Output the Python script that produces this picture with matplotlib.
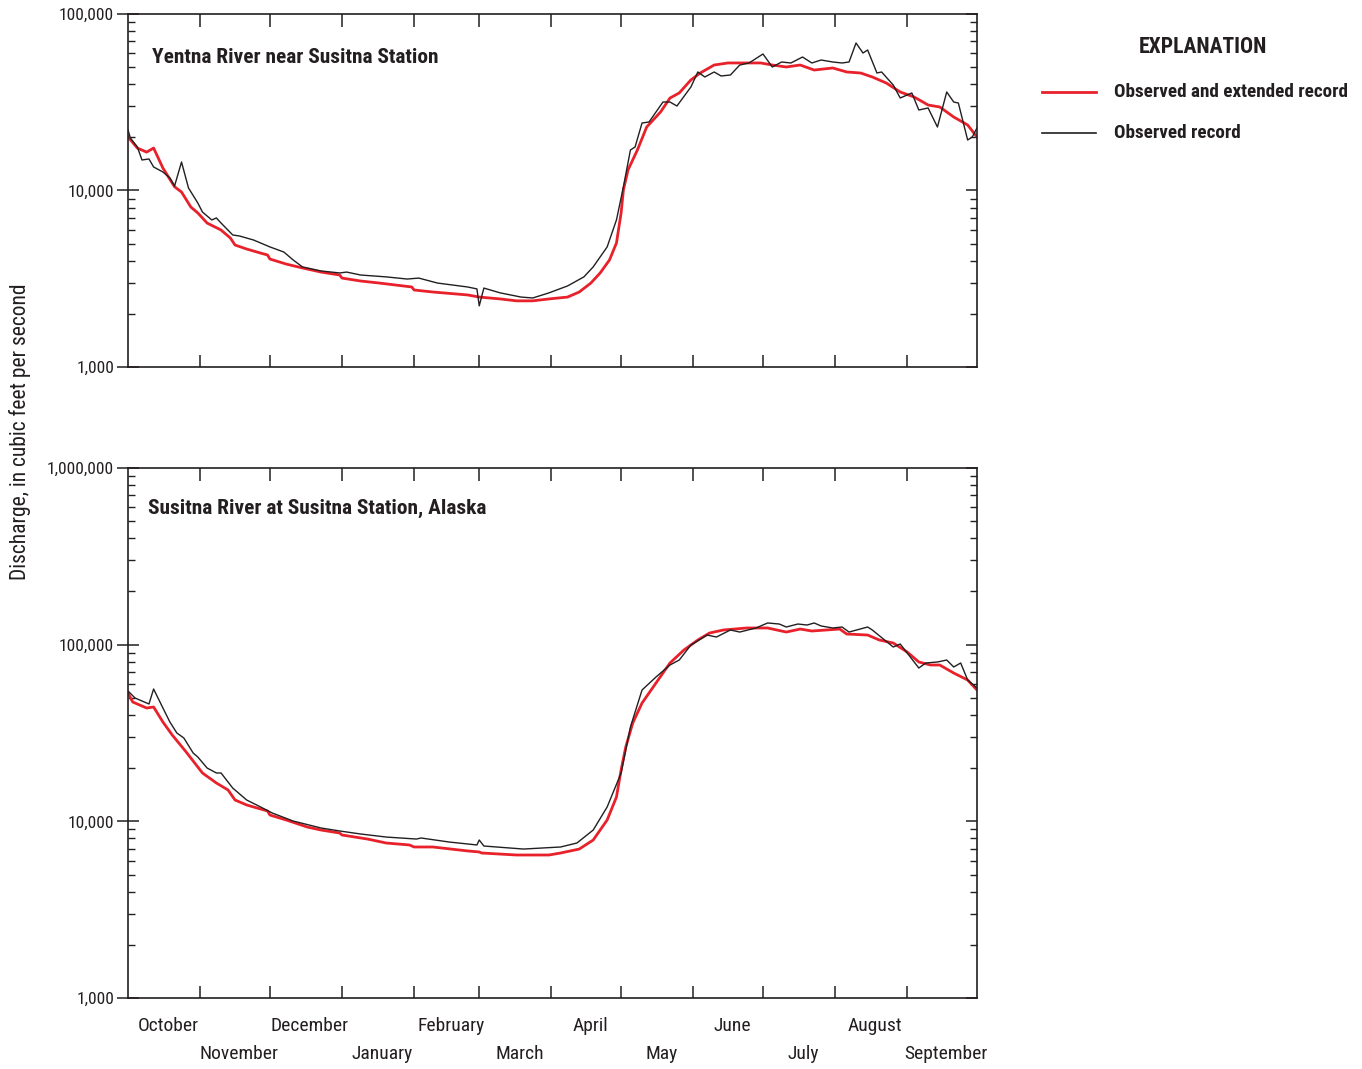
import matplotlib
matplotlib.use("Agg")
import matplotlib.pyplot as plt
import matplotlib.transforms as mtransforms
from matplotlib.lines import Line2D
from matplotlib.ticker import FuncFormatter, LogLocator, NullFormatter

plt.rcParams['font.family'] = ['Liberation Sans Narrow', 'Roboto Condensed', 'DejaVu Sans']

# Days since October 1 (water year), daily mean discharge in cubic feet per second
yentna_ext_day = [0, 4, 8, 11, 15, 20, 23, 27, 30, 34, 40, 44, 46, 51, 57, 60, 61, 68, 75, 83,
                  91, 92, 100, 108, 122, 123, 131, 146, 151, 160, 167, 174, 181, 189, 194, 199,
                  203, 207, 210, 212, 213, 215, 219, 223, 229, 233, 237, 242, 246, 252, 258,
                  263, 272, 277, 283, 289, 295, 303, 309, 315, 320, 326, 332, 338, 344, 349,
                  355, 361, 365]
yentna_ext_q = [20100, 17400, 16500, 17400, 13400, 10500, 9800, 8060, 7460, 6540, 5970, 5380,
                4910, 4660, 4420, 4310, 4090, 3830, 3640, 3450, 3320, 3190, 3070, 2990, 2840,
                2730, 2660, 2560, 2490, 2430, 2370, 2370, 2430, 2490, 2660, 2990, 3410, 4040,
                5040, 7460, 10100, 13100, 16960, 22900, 27900, 33400, 35700, 42300, 46300,
                51400, 52800, 52800, 52800, 51400, 50100, 51400, 48150, 49450, 46940, 46300,
                43970, 40650, 36150, 33860, 30510, 29730, 26090, 23500, 20100]

yentna_obs_day = [0, 1, 4, 6, 9, 11, 15, 18, 20, 23, 26, 30, 32, 36, 38, 40, 45, 48, 54, 61,
                  67, 71, 75, 83, 91, 94, 100, 111, 120, 125, 133, 146, 150, 151, 153, 160,
                  169, 174, 181, 189, 196, 200, 206, 210, 213, 216, 218, 221, 224, 230, 233,
                  236, 242, 245, 248, 252, 255, 259, 263, 267, 273, 277, 281, 285, 290, 294,
                  298, 303, 307, 310, 313, 316, 318, 322, 324, 329, 332, 337, 340, 344, 348,
                  352, 355, 357, 361, 363, 365]
yentna_obs_q = [22000, 19840, 17640, 14890, 15090, 13590, 12730, 11770, 10600, 14500, 10330,
                8500, 7550, 6810, 6990, 6540, 5600, 5520, 5240, 4790, 4480, 4040, 3690, 3500,
                3410, 3450, 3320, 3240, 3150, 3190, 2990, 2840, 2770, 2220, 2800, 2630, 2490,
                2460, 2630, 2880, 3240, 3690, 4790, 6810, 10500, 16960, 17640, 24120, 24440,
                31720, 31720, 30110, 38580, 46940, 43970, 46940, 44550, 45120, 51400, 52780,
                59350, 50100, 53460, 52780, 57060, 52780, 54880, 53460, 52780, 53460, 68490,
                60120, 62520, 46320, 46940, 39610, 33430, 35680, 28580, 29340, 22890, 36150,
                31720, 31310, 19320, 20100, 22600]

susitna_ext_day = [0, 2, 5, 8, 11, 15, 19, 25, 30, 32, 38, 43, 46, 51, 60, 61, 68, 77, 83, 91,
                   92, 103, 111, 121, 123, 131, 146, 151, 152, 167, 181, 186, 194, 200, 206,
                   210, 212, 214, 217, 221, 227, 233, 239, 245, 250, 256, 266, 275, 283, 289,
                   294, 306, 309, 318, 323, 329, 335, 340, 345, 349, 355, 361, 365]
susitna_ext_q = [53260, 47380, 45560, 43800, 44380, 36500, 30820, 24690, 20310, 18780, 16480,
                 15050, 13210, 12380, 11440, 10860, 10180, 9290, 8930, 8590, 8370, 7940, 7540,
                 7350, 7160, 7160, 6800, 6710, 6620, 6450, 6450, 6620, 6970, 7840, 10180, 13730,
                 19530, 26350, 36030, 46740, 60690, 78750, 93280, 106300, 116400, 121100,
                 124300, 124300, 117900, 122600, 119500, 122600, 114900, 113400, 106300, 102200,
                 90870, 79800, 76730, 76730, 69110, 63100, 55390]

susitna_obs_day = [0, 3, 6, 9, 11, 15, 18, 21, 24, 28, 30, 34, 38, 40, 45, 51, 57, 62, 71, 83,
                   91, 100, 111, 124, 126, 138, 150, 151, 153, 170, 186, 193, 200, 206, 212,
                   216, 221, 227, 233, 237, 242, 249, 253, 259, 263, 270, 275, 280, 283, 288,
                   292, 295, 298, 303, 307, 310, 318, 320, 329, 332, 340, 343, 348, 352, 355,
                   358, 361, 365]
susitna_obs_q = [54670, 49920, 48000, 46160, 56120, 43800, 36500, 31620, 29630, 24370, 23130,
                 20040, 18780, 18780, 15440, 13210, 12060, 11150, 10040, 9170, 8820, 8480, 8150,
                 7940, 8050, 7640, 7350, 7840, 7250, 6970, 7160, 7540, 8930, 12060, 18780,
                 34200, 55390, 65610, 76730, 81880, 99560, 113400, 110500, 121100, 117900,
                 124300, 132700, 130900, 125900, 130900, 129200, 132700, 127600, 124300, 125900,
                 117900, 125900, 121100, 97000, 100900, 73790, 78750, 79800, 81880, 74760,
                 78750, 63100, 56850]

month_names = ['October', 'November', 'December', 'January', 'February', 'March',
               'April', 'May', 'June', 'July', 'August', 'September']
month_starts = [0, 31, 61, 92, 123, 151, 182, 212, 243, 273, 304, 335, 365]

RED = '#e8212b'
INK = '#231f20'

fig = plt.figure(figsize=(13.62, 10.69), dpi=100)
ax_top = fig.add_axes([0.094, 0.6567, 0.6233, 0.3302])
ax_bot = fig.add_axes([0.094, 0.0664, 0.6233, 0.4958])

comma_fmt = FuncFormatter(lambda v, pos: f'{v:,.0f}')


def style_axis(ax, ymin, ymax):
    ax.set_yscale('log')
    ax.set_xlim(0, 365)
    ax.set_ylim(ymin, ymax)
    for s in ax.spines.values():
        s.set_color(INK)
        s.set_linewidth(1.2)
    ax.yaxis.set_major_locator(LogLocator(base=10))
    ax.yaxis.set_minor_locator(LogLocator(base=10, subs=range(2, 10)))
    ax.yaxis.set_major_formatter(comma_fmt)
    ax.yaxis.set_minor_formatter(NullFormatter())
    ax.tick_params(axis='y', which='major', direction='inout', length=16, width=1.1,
                   color=INK, labelsize=12.5, labelcolor=INK, right=False, pad=2)
    ax.tick_params(axis='y', which='minor', direction='in', length=5, width=1.0,
                   color=INK, right=False)
    # right-hand ticks point inward only
    sec = ax.secondary_yaxis('right')
    sec.yaxis.set_major_locator(LogLocator(base=10))
    sec.yaxis.set_minor_locator(LogLocator(base=10, subs=range(2, 10)))
    sec.yaxis.set_major_formatter(NullFormatter())
    sec.yaxis.set_minor_formatter(NullFormatter())
    sec.spines['right'].set_visible(False)
    sec.tick_params(which='major', direction='in', length=8, width=1.1, color=INK)
    sec.tick_params(which='minor', direction='in', length=5, width=1.0, color=INK)
    ax.set_xticks(month_starts[1:-1])
    ax.set_xticklabels([])
    ax.tick_params(axis='x', which='major', direction='in', length=9, width=1.1,
                   color=INK, top=True)
    ax.tick_params(axis='x', which='minor', bottom=False, top=False)


style_axis(ax_top, 1000, 100000)
style_axis(ax_bot, 1000, 1000000)

ax_top.plot(yentna_ext_day, yentna_ext_q, color=RED, lw=2.0, zorder=2)
ax_top.plot(yentna_obs_day, yentna_obs_q, color=INK, lw=1.0, zorder=3)
ax_bot.plot(susitna_ext_day, susitna_ext_q, color=RED, lw=2.0, zorder=2)
ax_bot.plot(susitna_obs_day, susitna_obs_q, color=INK, lw=1.0, zorder=3)

ax_top.text(0.028, 0.878, 'Yentna River near Susitna Station', transform=ax_top.transAxes,
            fontsize=15.4, fontweight='bold', color=INK, va='center', ha='left')
ax_bot.text(0.0236, 0.9245, 'Susitna River at Susitna Station, Alaska',
            transform=ax_bot.transAxes, fontsize=15.4, fontweight='bold', color=INK,
            va='center', ha='left')

# month names near the middle of each month, alternating between two rows
trans = mtransforms.blended_transform_factory(ax_bot.transData, fig.transFigure)
trans = trans + mtransforms.ScaledTranslation(0.04, 0, fig.dpi_scale_trans)
for i, name in enumerate(month_names):
    mid = (month_starts[i] + month_starts[i + 1]) / 2
    y = 0.0402 if i % 2 == 0 else 0.014
    ax_bot.text(mid, y, name, transform=trans, ha='center', va='center',
                fontsize=14, color=INK)

fig.text(0.0147, 0.596, 'Discharge, in cubic feet per second', rotation=90,
         ha='center', va='center', fontsize=15.5, color=INK)

# explanation block
fig.text(0.883, 0.956, 'EXPLANATION', ha='center', va='center', fontsize=15.6,
         fontweight='bold', color=INK)
fig.add_artist(Line2D([0.765, 0.805], [0.914, 0.914], color=RED, lw=2.0,
                      transform=fig.transFigure))
fig.add_artist(Line2D([0.765, 0.805], [0.8756, 0.8756], color=INK, lw=1.2,
                      transform=fig.transFigure))
fig.text(0.818, 0.914, 'Observed and extended record', ha='left', va='center',
         fontsize=13.8, fontweight='bold', color=INK)
fig.text(0.818, 0.8756, 'Observed record', ha='left', va='center',
         fontsize=13.8, fontweight='bold', color=INK)

fig.savefig('out.png', dpi=100)
